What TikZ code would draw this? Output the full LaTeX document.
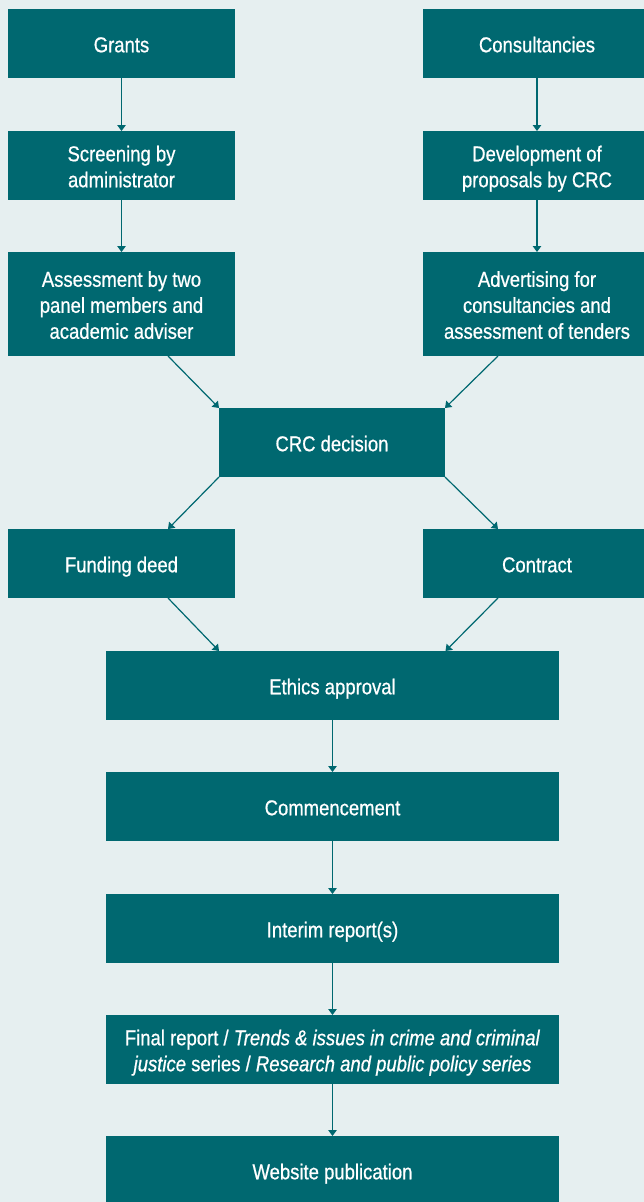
\documentclass[tikz,border=0pt]{standalone}
\usepackage{fontspec}
\setmainfont{Liberation Sans}[FakeStretch=0.86,FakeBold=0.7]
\usetikzlibrary{arrows.meta,calc}
\definecolor{teal1}{HTML}{006870}
\definecolor{bgc}{HTML}{E6EFF0}
\begin{document}
\begin{tikzpicture}[x=1pt,y=-1pt,
  box/.style={fill=teal1,draw=none,text=white,inner sep=0pt,outer sep=0pt,align=center,
    font=\fontsize{21.5}{26}\selectfont,text height=17.5pt,text depth=0pt},
  two/.style={text height=43.5pt},
  three/.style={text height=69.5pt},
  sbox/.style={box,minimum width=227pt,minimum height=69pt},
  rbox/.style={box,minimum width=228pt,minimum height=69pt},
  wbox/.style={box,minimum width=453pt,minimum height=69pt},
  arr/.style={draw=teal1,line width=1.2pt,-{Triangle[width=8.5pt,length=6pt]}}]
\useasboundingbox (0,0) rectangle (644,1202);
\clip (0,0) rectangle (644,1202);
\fill[bgc] (0,0) rectangle (644,1202);
\node[sbox] (grants) at (121.5,43.5) {Grants};
\node[rbox] (consult) at (537,43.5) {Consultancies};
\node[sbox,two] (screen) at (121.5,165.5) {Screening by\\administrator};
\node[rbox,two] (develop) at (537,165.5) {Development of\\proposals by CRC};
\node[sbox,three,minimum height=104pt] (assess) at (121.5,304) {Assessment by two\\panel members and\\academic adviser};
\node[rbox,three,minimum height=104pt] (advert) at (537,304) {Advertising for\\consultancies and\\assessment of tenders};
\node[box,minimum width=226pt,minimum height=69pt] (crc) at (332,442.5) {CRC decision};
\node[sbox] (deed) at (121.5,563.5) {Funding deed};
\node[rbox] (contract) at (537,563.5) {Contract};
\node[wbox] (ethics) at (332.5,685.5) {Ethics approval};
\node[wbox] (commence) at (332.5,806.5) {Commencement};
\node[wbox] (interim) at (332.5,928.5) {Interim report(s)};
\node[wbox,two] (final) at (332.5,1049.5) {Final report / \textit{Trends \& issues in crime and criminal}\\\textit{justice} series / \textit{Research and public policy series}};
\node[wbox] (web) at (332.5,1170.5) {Website publication};
\draw[arr] (grants) -- (screen);
\draw[arr] (screen) -- (assess);
\draw[arr] (consult) -- (develop);
\draw[arr] (develop) -- (advert);
\draw[arr] ($(assess.south)+(46.5,0)$) -- (crc.north west);
\draw[arr] ($(advert.south)+(-39,0)$) -- (crc.north east);
\draw[arr] (crc.south west) -- ($(deed.north)+(46.5,0)$);
\draw[arr] (crc.south east) -- ($(contract.north)+(-39,0)$);
\draw[arr] ($(deed.south)+(46.5,0)$) -- ($(ethics.north west)+(113,0)$);
\draw[arr] ($(contract.south)+(-39,0)$) -- ($(ethics.north east)+(-113.5,0)$);
\draw[arr] (ethics) -- (commence);
\draw[arr] (commence) -- (interim);
\draw[arr] (interim) -- (final);
\draw[arr] (final) -- (web);
\end{tikzpicture}
\end{document}
